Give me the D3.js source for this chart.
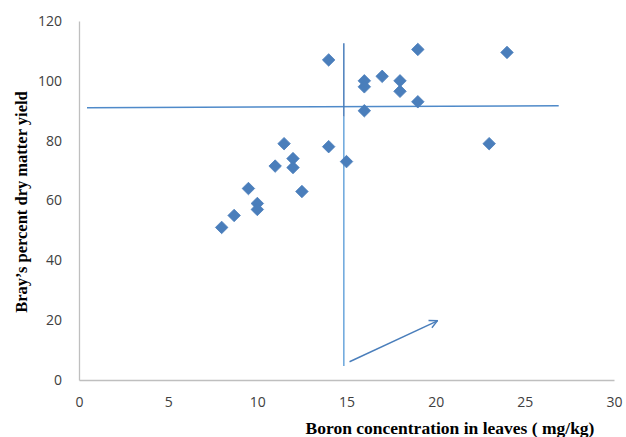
<!DOCTYPE html>
<html>
<head>
<meta charset="utf-8">
<script src="https://cdn.jsdelivr.net/npm/d3@7"></script>
<style>
  body { margin: 0; background: #fff; }
  .tick text { font-family: "Open Sans", "Noto Sans", sans-serif; font-size: 14px; fill: #404040; }
  .title { font-family: "Liberation Serif", "Times New Roman", serif; font-weight: bold; fill: #000; }
</style>
</head>
<body>
<svg id="chart" width="626" height="437"></svg>
<script>
// Boron in leaves (mg/kg) vs Bray's percent dry matter yield
const boron = [8, 8.7, 9.5, 10, 10, 11, 11.5, 12, 12, 12.5, 14, 14, 15, 16, 16, 16, 17, 18, 18, 19, 19, 23, 24];
const yieldPct = [51, 55, 64, 59, 57, 71.5, 79, 74, 71, 63, 107, 78, 73, 100, 98, 90, 101.5, 100, 96.5, 110.5, 93, 79, 109.5];

const xTicks = [0, 5, 10, 15, 20, 25, 30];
const yTicks = [0, 20, 40, 60, 80, 100, 120];

// Cate-Nelson style dividing lines [x1, y1, x2, y2]
const hLine = [0.45, 91, 26.9, 91.7];
const vLine = [14.85, 112.6, 14.85, 4.7];
const arrow = [15.17, 6.1, 20.1, 19.8];

const svg = d3.select("#chart");
const margin = {top: 21, right: 12, bottom: 57, left: 79};

const g = svg.append("g").attr("transform", "translate(" + margin.left + "," + margin.top + ")");

const x = d3.scaleLinear().domain([0, 30]).range([0, 535]);
const y = d3.scaleLinear().domain([0, 120]).range([359, 0]);

const xAxis = d3.axisBottom(x).tickValues(xTicks).tickSize(0).tickPadding(17);
const yAxis = d3.axisLeft(y).tickValues(yTicks).tickSize(0).tickPadding(17);

g.append("g")
    .attr("class", "x-axis")
    .attr("transform", "translate(0," + y(0) + ")")
    .call(xAxis)
    .call(s => s.select(".domain").attr("stroke", "#bfbfbf").attr("stroke-width", 1.3));

g.append("g")
    .attr("class", "y-axis")
    .call(yAxis)
    .call(s => s.select(".domain").attr("stroke", "#bfbfbf").attr("stroke-width", 1.3));

// arrow head
svg.append("defs").append("marker")
    .attr("id", "head")
    .attr("viewBox", "0 0 10 10")
    .attr("refX", 9)
    .attr("refY", 5)
    .attr("markerWidth", 10)
    .attr("markerHeight", 10)
    .attr("markerUnits", "userSpaceOnUse")
    .attr("orient", "auto")
    .append("path")
    .attr("d", "M1,1 L9,5 L1,9")
    .attr("fill", "none")
    .attr("stroke", "#4a7ebb")
    .attr("stroke-width", 1.4);

// horizontal line
g.append("line")
    .attr("x1", x(hLine[0])).attr("y1", y(hLine[1]))
    .attr("x2", x(hLine[2])).attr("y2", y(hLine[3]))
    .attr("stroke", "#4f8ac9")
    .attr("stroke-width", 1.5);

// vertical line: darker at top, lighter below
const vMid = 88;
g.append("line")
    .attr("x1", x(vLine[0])).attr("y1", y(vLine[1]))
    .attr("x2", x(vLine[2])).attr("y2", y(vMid))
    .attr("stroke", "#4a7ebb")
    .attr("stroke-width", 1.5);
g.append("line")
    .attr("x1", x(vLine[0])).attr("y1", y(vMid))
    .attr("x2", x(vLine[2])).attr("y2", y(vLine[3]))
    .attr("stroke", "#6aa6dc")
    .attr("stroke-width", 1.5);

// arrow
g.append("line")
    .attr("x1", x(arrow[0])).attr("y1", y(arrow[1]))
    .attr("x2", x(arrow[2])).attr("y2", y(arrow[3]))
    .attr("stroke", "#4a7ebb")
    .attr("stroke-width", 1.4)
    .attr("marker-end", "url(#head)");

// points
const diamond = d3.symbol().type(d3.symbolDiamond2).size(100);
g.selectAll(".dot")
    .data(boron.map((b, i) => [b, yieldPct[i]]))
    .enter()
    .append("path")
    .attr("class", "dot")
    .attr("d", diamond)
    .attr("transform", d => "translate(" + x(d[0]) + "," + y(d[1]) + ")")
    .attr("fill", "#4a7ebb")
    .attr("stroke", "#4a7ebb")
    .attr("stroke-width", 0.8);

// axis titles
svg.append("text")
    .attr("class", "title")
    .attr("x", 450)
    .attr("y", 434)
    .attr("text-anchor", "middle")
    .style("font-size", "17.5px")
    .text("Boron concentration in leaves ( mg/kg)");

svg.append("text")
    .attr("class", "title")
    .attr("transform", "translate(27,202) rotate(-90)")
    .attr("text-anchor", "middle")
    .style("font-size", "16.5px")
    .text("Bray\u2019s percent dry matter yield");
</script>
</body>
</html>
